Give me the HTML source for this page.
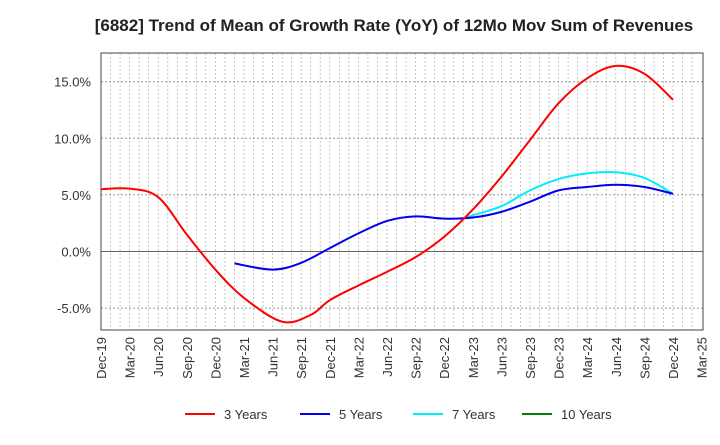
<!DOCTYPE html>
<html><head><meta charset="utf-8"><style>
body{margin:0;background:#fff;font-family:"Liberation Sans",sans-serif;}
svg text{font-family:"Liberation Sans",sans-serif;}
</style></head><body>
<svg id="chart" width="720" height="440" xmlns="http://www.w3.org/2000/svg">
<text x="394" y="31" text-anchor="middle" font-size="17" font-weight="bold" fill="#222">[6882]  Trend of Mean of Growth Rate (YoY) of 12Mo Mov Sum of Revenues</text>
<g id="grid"></g><g id="axes"></g><g id="series"></g>
<g id="legend"></g>
</svg>
<script>
const xTickLabels=["Dec-19","Mar-20","Jun-20","Sep-20","Dec-20","Mar-21","Jun-21","Sep-21","Dec-21","Mar-22","Jun-22","Sep-22","Dec-22","Mar-23","Jun-23","Sep-23","Dec-23","Mar-24","Jun-24","Sep-24","Dec-24","Mar-25"];
const yTicks=[-5,0,5,10,15];
const m3=[0,3,6,9,12,15,19,22,24,27,30,33,36,39,42,45,48,51,54,57,60];
const v3=[5.5,5.55,4.8,1.5,-1.6,-4.1,-6.2,-5.6,-4.3,-3.0,-1.8,-0.5,1.3,3.7,6.6,9.85,13.1,15.3,16.4,15.7,13.4];
const m5=[14,18,21,24,27,30,33,36,39,42,45,48,51,54,57,60];
const v5=[-1.05,-1.6,-1.0,0.3,1.6,2.7,3.1,2.9,3.0,3.5,4.4,5.4,5.7,5.9,5.7,5.1];
const m7=[38,39,42,45,48,51,54,57,60];
const v7=[2.9,3.2,4.0,5.4,6.4,6.9,7.0,6.5,5.1];
const m10=[];const v10=[];
const L=101,R=703,T=53,B=330;
const qW=(673-L)/20;
function xS(m){return L+m*qW/3;}
function yS(v){return 251.5-v*11.32;}
const NS="http://www.w3.org/2000/svg";
function mk(tag,attrs,parent){const e=document.createElementNS(NS,tag);for(const k in attrs)e.setAttribute(k,attrs[k]);parent.appendChild(e);return e;}
const grid=document.getElementById('grid'),axes=document.getElementById('axes'),ser=document.getElementById('series'),leg=document.getElementById('legend');
for(let m=1;m<63;m++){const x=xS(m);if(x>=R)break;
 const l=mk('line',{x1:x,x2:x,y1:T,y2:B,stroke:'#bbb','stroke-width':0.8,'stroke-dasharray':'2,2'},grid);
 
 }
yTicks.forEach(v=>{const y=yS(v);
 const l=mk('line',{x1:L,x2:R,y1:y,y2:y,stroke:v===0?'#666':'#999','stroke-width':1,'stroke-dasharray':v===0?'':'2,2'},grid);
 
 
 const t=mk('text',{x:91,y:y+5,'text-anchor':'end','font-size':13,fill:'#333'},axes);
 
 
 t.textContent=v.toFixed(1)+'%';});
const fr=mk('rect',{x:L,y:T,width:R-L,height:B-T,fill:'none',stroke:'#444','stroke-width':1},axes);


xTickLabels.forEach((s,i)=>{const x=xS(i*3);
 const t=mk('text',{x:0,y:0,'text-anchor':'end','font-size':13,fill:'#333',transform:`translate(${x+5},${B+7}) rotate(-90)`},axes);
 
 
 t.textContent=s;});
function path(ms,vs){const p=ms.map((m,i)=>[xS(m),yS(vs[i])]);if(p.length<2)return'';
 let d=`M${p[0][0]},${p[0][1]}`;
 for(let i=0;i<p.length-1;i++){const p0=p[i-1]||p[i],p1=p[i],p2=p[i+1],p3=p[i+2]||p2;
  d+=` C${p1[0]+(p2[0]-p0[0])/6},${p1[1]+(p2[1]-p0[1])/6} ${p2[0]-(p3[0]-p1[0])/6},${p2[1]-(p3[1]-p1[1])/6} ${p2[0]},${p2[1]}`;}
 return d;}
const S=[["3 Years",m3,v3,"#ff0000","series-3-years"],["5 Years",m5,v5,"#0000ee","series-5-years"],["7 Years",m7,v7,"#00eeff","series-7-years"],["10 Years",m10,v10,"#008000","series-10-years"]];
[S[2],S[1],S[0],S[3]].forEach(s=>{const d=path(s[1],s[2]);if(!d)return;
 const p=mk('path',{d:d,fill:'none',stroke:s[3],'stroke-width':2},ser);
 
 });
const lx=[185,300,413,522];
S.forEach((s,i)=>{const x=lx[i];
 const l=mk('line',{x1:x,x2:x+30,y1:414,y2:414,stroke:s[3],'stroke-width':2},leg);
 
 
 const t=mk('text',{x:x+39,y:419,'font-size':13,fill:'#333'},leg);
 
 
 t.textContent=s[0];});
</script>
</body></html>
